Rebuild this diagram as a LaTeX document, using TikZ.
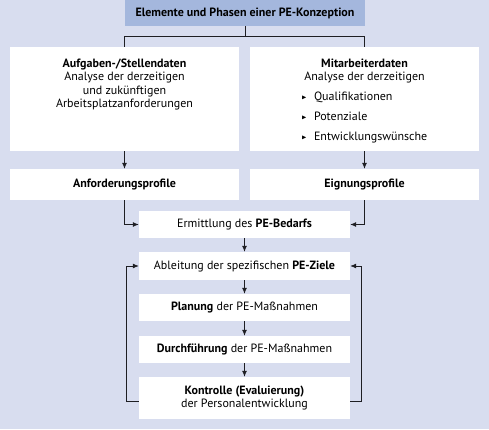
\documentclass[tikz,border=0pt]{standalone}
\usepackage{fontspec}
\setmainfont{PT Sans}
\usepackage{amssymb}
\usetikzlibrary{%
	calc,%
	arrows.meta,%
	positioning,%
}
\definecolor{pebg}{RGB}{216, 221, 239}
\definecolor{petitle}{RGB}{164, 183, 221}
\definecolor{peline}{RGB}{30, 30, 35}
\tikzset{
	>={Latex[length=6pt,width=5pt]},%
	nodes={align=center},%
	titlebox/.style={%
			fill=petitle,%
			rectangle,%
			inner sep=0,%
			minimum width=240pt,%
			minimum height=26pt,%
			font={\fontsize{12}{13.5}\selectfont\bfseries}},%
	databox/.style={%
			fill=white,%
			rectangle,%
			inner sep=0,%
			minimum width=229pt},%
	stepbox/.style={%
			fill=white,%
			rectangle,%
			inner sep=0,%
			minimum width=211pt,%
			minimum height=27pt},%
	link/.style={draw=peline, line width=0.8pt},%
	arrlink/.style={link, ->},%
}
\newcommand{\pebullet}{\raisebox{0.15ex}{\scalebox{0.55}{$\blacktriangleright$}}\hspace{0.6em}}
\newcommand{\databoxtext}[1]{\parbox[c][104pt][t]{229pt}{\centering\vspace*{11.5pt}#1}}

\begin{document}
\begin{tikzpicture}[x=1pt, y=-1pt, nodes={font={\fontsize{12}{13.6}\selectfont}}]%
	\fill[pebg] (0,0) rectangle (489,429);

	\node[titlebox] (title) at (245,13) {Elemente und Phasen einer PE-Konzeption};

	\node[databox] (aufg) at (124.5,99) {\databoxtext{%
			\textbf{Aufgaben-/Stellendaten}\\
			Analyse der derzeitigen\\
			und zukünftigen\\
			Arbeitsplatzanforderungen}};

	\node[databox] (mita) at (364.5,99) {\databoxtext{%
			\textbf{Mitarbeiterdaten}\\
			Analyse der derzeitigen\\[6.2pt]
			\begin{tabular}[t]{@{}l@{}}
				\pebullet Qualifikationen     \\[6.6pt]
				\pebullet Potenziale          \\[6.6pt]
				\pebullet Entwicklungswünsche \\
			\end{tabular}}};

	\node[databox, minimum height=31pt] (anf) at (124.5,184.5) {\textbf{Anforderungsprofile}};
	\node[databox, minimum height=31pt] (eig) at (364.5,184.5) {\textbf{Eignungsprofile}};

	\node[stepbox] (erm) at (244.5,224.5) {Ermittlung des \textbf{PE-Bedarfs}};
	\node[stepbox, minimum height=28pt] (abl) at (244.5,266) {Ableitung der spezifischen \textbf{PE-Ziele}};
	\node[stepbox] (plan) at (244.5,307.5) {\textbf{Planung} der PE-Maßnahmen};
	\node[stepbox] (durch) at (244.5,349.5) {\textbf{Durchführung} der PE-Maßnahmen};
	\node[stepbox, minimum height=42pt] (kon) at (244.5,398) {\textbf{Kontrolle (Evaluierung)}\\der Personalentwicklung};

	\coordinate (fbl) at ($(kon.west)+(-12,3)$);
	\coordinate (fbr) at ($(kon.east)+(11,3)$);

	\draw[link] (title.south) -- ++(0,10) -| (aufg.north);
	\draw[link] (title.south) -- ++(0,10) -| (mita.north);
	\draw[arrlink] (aufg) -- (anf);
	\draw[arrlink] (mita) -- (eig);
	\draw[arrlink] (anf) |- (erm);
	\draw[arrlink] (eig) |- (erm);
	\draw[arrlink] (erm) -- (abl);
	\draw[arrlink] (abl) -- (plan);
	\draw[arrlink] (plan) -- (durch);
	\draw[arrlink] (durch) -- (kon);
	\draw[arrlink] (kon.west |- fbl) -- (fbl) |- (abl.west);
	\draw[arrlink] (kon.east |- fbr) -- (fbr) |- (abl.east);
\end{tikzpicture}
\end{document}
